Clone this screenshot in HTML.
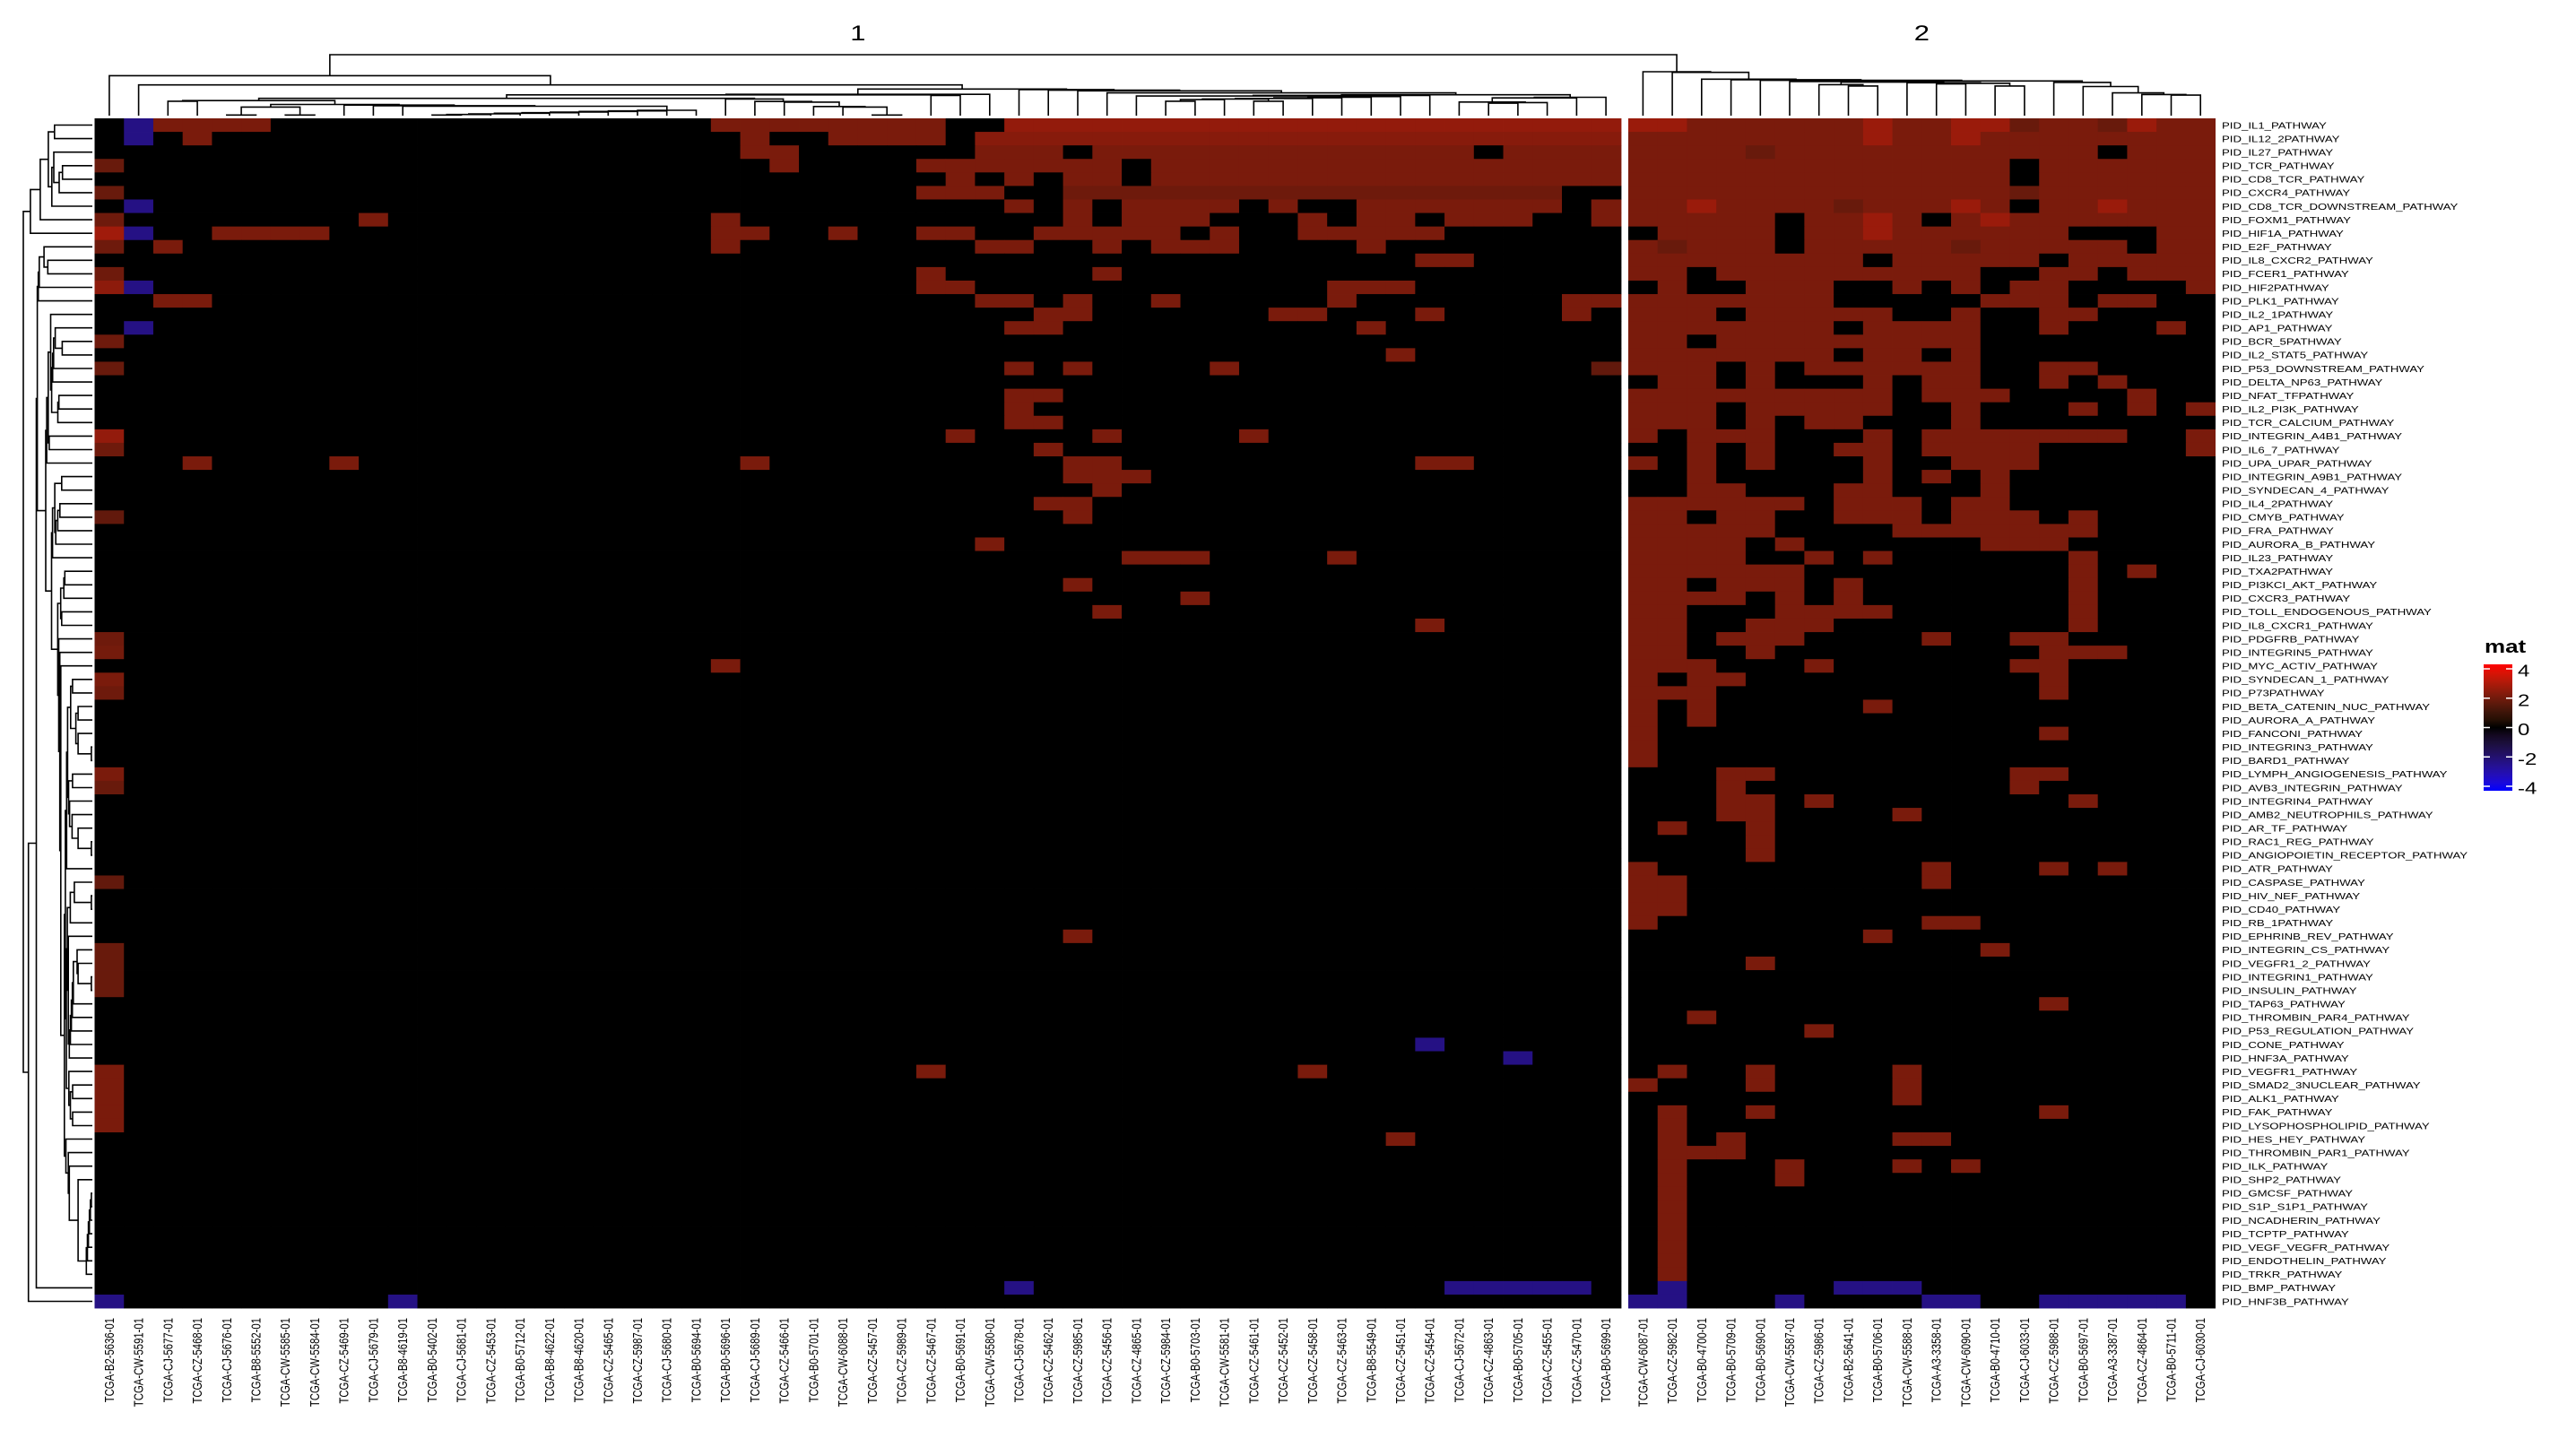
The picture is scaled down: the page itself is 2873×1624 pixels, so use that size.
<!DOCTYPE html>
<html><head><meta charset="utf-8"><title>Pathway heatmap</title>
<style>
html,body{margin:0;padding:0;background:#fff;}
svg{display:block;font-family:"Liberation Sans",Arial,sans-serif;}
</style></head>
<body>
<svg id="chart" width="2873" height="1624" viewBox="0 0 2873 1624" xmlns="http://www.w3.org/2000/svg">
<rect x="0" y="0" width="2873" height="1624" fill="#fff"/>
<defs><linearGradient id="legGrad" x1="0" y1="0" x2="0" y2="1"></linearGradient></defs>
<g id="cells"></g>
<g id="coldendro"></g>
<g id="rowdendro"></g>
<g id="collabels"></g>
<g id="rowlabels"></g>
<g id="titles"></g>
<g id="legend"></g>
</svg>
<script>
const leftCols = ["TCGA-B2-5636-01","TCGA-CW-5591-01","TCGA-CJ-5677-01","TCGA-CZ-5468-01","TCGA-CJ-5676-01","TCGA-B8-5552-01","TCGA-CW-5585-01","TCGA-CW-5584-01","TCGA-CZ-5469-01","TCGA-CJ-5679-01","TCGA-B8-4619-01","TCGA-B0-5402-01","TCGA-CJ-5681-01","TCGA-CZ-5453-01","TCGA-B0-5712-01","TCGA-B8-4622-01","TCGA-B8-4620-01","TCGA-CZ-5465-01","TCGA-CZ-5987-01","TCGA-CJ-5680-01","TCGA-B0-5694-01","TCGA-B0-5696-01","TCGA-CJ-5689-01","TCGA-CZ-5466-01","TCGA-B0-5701-01","TCGA-CW-6088-01","TCGA-CZ-5457-01","TCGA-CZ-5989-01","TCGA-CZ-5467-01","TCGA-B0-5691-01","TCGA-CW-5580-01","TCGA-CJ-5678-01","TCGA-CZ-5462-01","TCGA-CZ-5985-01","TCGA-CZ-5456-01","TCGA-CZ-4865-01","TCGA-CZ-5984-01","TCGA-B0-5703-01","TCGA-CW-5581-01","TCGA-CZ-5461-01","TCGA-CZ-5452-01","TCGA-CZ-5458-01","TCGA-CZ-5463-01","TCGA-B8-5549-01","TCGA-CZ-5451-01","TCGA-CZ-5454-01","TCGA-CJ-5672-01","TCGA-CZ-4863-01","TCGA-B0-5705-01","TCGA-CZ-5455-01","TCGA-CZ-5470-01","TCGA-B0-5699-01"];
const rightCols = ["TCGA-CW-6087-01","TCGA-CZ-5982-01","TCGA-B0-4700-01","TCGA-B0-5709-01","TCGA-B0-5690-01","TCGA-CW-5587-01","TCGA-CZ-5986-01","TCGA-B2-5641-01","TCGA-B0-5706-01","TCGA-CW-5588-01","TCGA-A3-3358-01","TCGA-CW-6090-01","TCGA-B0-4710-01","TCGA-CJ-6033-01","TCGA-CZ-5988-01","TCGA-B0-5697-01","TCGA-A3-3387-01","TCGA-CZ-4864-01","TCGA-B0-5711-01","TCGA-CJ-6030-01"];
const rowLabels = ["PID_IL1_PATHWAY","PID_IL12_2PATHWAY","PID_IL27_PATHWAY","PID_TCR_PATHWAY","PID_CD8_TCR_PATHWAY","PID_CXCR4_PATHWAY","PID_CD8_TCR_DOWNSTREAM_PATHWAY","PID_FOXM1_PATHWAY","PID_HIF1A_PATHWAY","PID_E2F_PATHWAY","PID_IL8_CXCR2_PATHWAY","PID_FCER1_PATHWAY","PID_HIF2PATHWAY","PID_PLK1_PATHWAY","PID_IL2_1PATHWAY","PID_AP1_PATHWAY","PID_BCR_5PATHWAY","PID_IL2_STAT5_PATHWAY","PID_P53_DOWNSTREAM_PATHWAY","PID_DELTA_NP63_PATHWAY","PID_NFAT_TFPATHWAY","PID_IL2_PI3K_PATHWAY","PID_TCR_CALCIUM_PATHWAY","PID_INTEGRIN_A4B1_PATHWAY","PID_IL6_7_PATHWAY","PID_UPA_UPAR_PATHWAY","PID_INTEGRIN_A9B1_PATHWAY","PID_SYNDECAN_4_PATHWAY","PID_IL4_2PATHWAY","PID_CMYB_PATHWAY","PID_FRA_PATHWAY","PID_AURORA_B_PATHWAY","PID_IL23_PATHWAY","PID_TXA2PATHWAY","PID_PI3KCI_AKT_PATHWAY","PID_CXCR3_PATHWAY","PID_TOLL_ENDOGENOUS_PATHWAY","PID_IL8_CXCR1_PATHWAY","PID_PDGFRB_PATHWAY","PID_INTEGRIN5_PATHWAY","PID_MYC_ACTIV_PATHWAY","PID_SYNDECAN_1_PATHWAY","PID_P73PATHWAY","PID_BETA_CATENIN_NUC_PATHWAY","PID_AURORA_A_PATHWAY","PID_FANCONI_PATHWAY","PID_INTEGRIN3_PATHWAY","PID_BARD1_PATHWAY","PID_LYMPH_ANGIOGENESIS_PATHWAY","PID_AVB3_INTEGRIN_PATHWAY","PID_INTEGRIN4_PATHWAY","PID_AMB2_NEUTROPHILS_PATHWAY","PID_AR_TF_PATHWAY","PID_RAC1_REG_PATHWAY","PID_ANGIOPOIETIN_RECEPTOR_PATHWAY","PID_ATR_PATHWAY","PID_CASPASE_PATHWAY","PID_HIV_NEF_PATHWAY","PID_CD40_PATHWAY","PID_RB_1PATHWAY","PID_EPHRINB_REV_PATHWAY","PID_INTEGRIN_CS_PATHWAY","PID_VEGFR1_2_PATHWAY","PID_INTEGRIN1_PATHWAY","PID_INSULIN_PATHWAY","PID_TAP63_PATHWAY","PID_THROMBIN_PAR4_PATHWAY","PID_P53_REGULATION_PATHWAY","PID_CONE_PATHWAY","PID_HNF3A_PATHWAY","PID_VEGFR1_PATHWAY","PID_SMAD2_3NUCLEAR_PATHWAY","PID_ALK1_PATHWAY","PID_FAK_PATHWAY","PID_LYSOPHOSPHOLIPID_PATHWAY","PID_HES_HEY_PATHWAY","PID_THROMBIN_PAR1_PATHWAY","PID_ILK_PATHWAY","PID_SHP2_PATHWAY","PID_GMCSF_PATHWAY","PID_S1P_S1P1_PATHWAY","PID_NCADHERIN_PATHWAY","PID_TCPTP_PATHWAY","PID_VEGF_VEGFR_PATHWAY","PID_ENDOTHELIN_PATHWAY","PID_TRKR_PATHWAY","PID_BMP_PATHWAY","PID_HNF3B_PATHWAY"];
// left split: sparse tokens "col", "from-to", optional "@value" (default 2)
const leftValues = [
"1@-2.2 2-5 21-28 31-51@2.4","1@-2.2 3 22 25-28 30-51@2.2","22 23 30-32 34-46 48-51","0@1.7 23 28-34 36-51","29 31 33 34 36-51",
"0@1.7 28-30 33-49@1.8","1@-2.2 31 33 35-38 40 43-49 51","0@1.8 9 21 33 35-37 41 43 44 46-48 51","0@2.6 1@-2.2 4-7 21 22 25 28 29 32-36 38 41-45","0@1.8 2 21 30 31 34 36-38 43",
"45 46","0@1.8 28 34","0@2.3 1@-2.2 28 29 42-44","2 3 30 31 33 36 42 50 51","32 33 40 41 45 50",
"1@-2.2 31 32 43","0@1.8","44","0@1.7 31 33 38 51@1.6","",
"31 32","31","31 32","0@2.4 29 34 39","0@1.8 32",
"3 8 22 33 34 45 46","33-35","34","32 33","0@1.6 33",
"","30","35-37 42","","33",
"37","34","45","0@1.8","0@1.9",
"21","0","0@1.8","","",
"","","","0","0@1.7",
"","","","","",
"","0@1.6","","","",
"33","0@1.7","0@1.7","0@1.7","0@1.7",
"","","","45@-2.2","48@-2.2",
"0 28 41","0","0","0","0",
"44","","","","",
"","","","","",
"","31@-2.2 46-50@-2.2","0@-2.2 10@-2.2"];
// right split: one char per column ('.'=0,'a'=1.7,'b'=2,'c'=2.5,'x'=-2.2)
const rightValues = [
"ccbbbbbbcbbccabbacbb","bbbbbbbbcbbcbbbbbbbb","bbbbabbbbbbbbbbb.bbb","bbbbbbbbbbbbb.bbbbbb","bbbbbbbbbbbbb.bbbbbb",
"bbbbbbbbbbbbbabbbbbb","bbcbbbbabbbcb.bbcbbb","bbbbb.bbcb.bcbbbbbbb",".bbbb.bbcbbbbbb...bb","babbb.bbbbbabbbbb.bb",
"bbbbbbbb.bbbbb.bbbbb","bb.bbbbbbbbb..bb.bbb",".b..bbb..b.b.bb....b","bbbbbbb.....bbb.bb..","bbb.bbbbb..b..bb....",
"bbbbbbb.bbbb..b...b.","bb.bbbbbbbbb........","bbbbbbb.bb.b........","bbb.b.bbbbbb..bb....",".bb.b...b.bb..b.b...",
"bbbbbbbbb.bbb....b..","bbb.bbbbb..b...b.b.b","bbb.b.bb...b........","b.bbb...b.bbbbbbb..b","..b.b..bb.bbbb.....b",
"b.b.b...b..bbb......","..b.....b.b.b.......","..bb...bb...b.......","bbbbbb.bbb.bb.......","bb.bb..bbb.bbb.b....",
"bbbbb....bbbbbbb....","bbbb.b......bbb.....","bbbb..b.b......b....","bbbbbb.........b.b..","bb.bbb.b.......b....",
"bbbb.b.b.......b....","bb...bbbb......b....","bb..bbb........b....","bb.bbb....b..bb.....","bb..b.........bbb...",
"bbb...b......bb.....","b.bb..........b.....","bbb...........b.....","b.b.....b...........","b.b.................",
"b.............b.....","b...................","b...................","...bb........bb.....","...b.........b......",
"...bb.b........b....","...bb....b..........",".b..b...............","....b...............","....b...............",
"b.........b...b.b...","bb........b.........","bb..................","bb..................","b.........bb........",
"........b...........","............b.......","....b...............","....................","....................",
"..............b.....","..b.................","......b.............","....................","....................",
".b..b....b..........","b...b....b..........",".........b..........",".b..b.........b.....",".b..................",
".b.b.....bb.........",".bbb................",".b...b...b.b........",".b...b..............",".b..................",
".b..................",".b..................",".b..................",".b..................",".b..................",
".b..................",".x.....xxx..........","xx...x....xx..xxxxx."];
const legendTicks = [4, 2, 0, -2, -4];

const NS = "http://www.w3.org/2000/svg";
function mk(tag, attrs, parent){ const e=document.createElementNS(NS,tag); for(const k in attrs) e.setAttribute(k,attrs[k]); if(parent) parent.appendChild(e); return e; }

// geometry / axis functions
const TOP = 132, ROWH = 15.08, COLW = 32.73, LEFTX = 105.5, RIGHTX = 1816;
const nL = leftCols.length, nR = rightCols.length, nRows = rowLabels.length;
function yOf(r){ return TOP + r*ROWH; }
function xOf(c){ return c < nL ? LEFTX + c*COLW : RIGHTX + (c-nL)*COLW; }

// parse data into matrix
const codeMap = {'.':0,'a':1.7,'b':2,'c':2.5,'x':-2.2,'y':-1.8};
const mat = [];
for(let r=0;r<nRows;r++){
  const row = new Array(nL+nR).fill(0);
  (leftValues[r]||"").trim().split(/\s+/).filter(Boolean).forEach(tok=>{
    let [rng,val] = tok.split('@'); val = val===undefined?2:parseFloat(val);
    let [a,b] = rng.split('-').map(Number); if(b===undefined) b=a;
    for(let c=a;c<=b;c++) row[c]=val;
  });
  const s = rightValues[r]||"";
  for(let j=0;j<nR;j++){ row[nL+j] = codeMap[s[j]]||0; }
  mat.push(row);
}

// color: LAB interpolation blue-black-red over [-4,0,4]
const LAB_RED=[53.24,80.09,67.20], LAB_BLUE=[32.30,79.19,-107.86];
function lab2rgb(L,A,B){
  const fy=(L+16)/116, fx=fy+A/500, fz=fy-B/200;
  const f=t=>t>6/29? t*t*t : 3*(6/29)*(6/29)*(t-4/29);
  const X=0.95047*f(fx), Y=f(fy), Z=1.08883*f(fz);
  const lin=[3.2406*X-1.5372*Y-0.4986*Z, -0.9689*X+1.8758*Y+0.0415*Z, 0.0557*X-0.2040*Y+1.0570*Z];
  const g=c=>{c=Math.max(0,Math.min(1,c)); return Math.round(255*(c<=0.0031308?12.92*c:1.055*Math.pow(c,1/2.4)-0.055));};
  return "rgb("+lin.map(g).join(",")+")";
}
function colorFor(v){
  const t=Math.min(1,Math.abs(v)/4); if(t===0) return "rgb(0,0,0)";
  const e = v>0?LAB_RED:LAB_BLUE;
  return lab2rgb(e[0]*t,e[1]*t,e[2]*t);
}

// cells
const gCells=document.getElementById('cells');
for(let r=0;r<nRows;r++){
  for(let c=0;c<nL+nR;c++){
    const w = c===nL-1 ? (RIGHTX-8) - xOf(c) : COLW;
    const rect = mk('rect',{x:xOf(c).toFixed(2),y:yOf(r).toFixed(2),width:(w+0.4).toFixed(2),height:(ROWH+0.4).toFixed(2),fill:colorFor(mat[r][c])},gCells);
    
    
  }
}

// dendrogram via adjacent-merge clustering
function buildTree(vecs){
  let cl = vecs.map((v,i)=>({pos:i,h:0,mean:v.slice(),n:1,kids:null}));
  while(cl.length>1){
    let best=-1,bd=Infinity;
    for(let i=0;i<cl.length-1;i++){
      let d=0; const a=cl[i].mean,b=cl[i+1].mean;
      for(let k=0;k<a.length;k++){ d+=(a[k]-b[k])**2; }
      d=Math.sqrt(d);
      if(d<bd){bd=d;best=i;}
    }
    const A=cl[best],B=cl[best+1],n=A.n+B.n;
    const mean=A.mean.map((v,k)=>(v*A.n+B.mean[k]*B.n)/n);
    const node={pos:(A.pos+B.pos)/2,h:Math.max(bd,A.h,B.h)+0.15,mean,n,kids:[A,B]};
    cl.splice(best,2,node);
  }
  return cl[0];
}
function drawTree(node,g,toXY){
  if(!node.kids) return;
  const [A,B]=node.kids;
  const p1=toXY(A.pos,node.h), p2=toXY(B.pos,node.h), a0=toXY(A.pos,A.h), b0=toXY(B.pos,B.h);
  const ln = mk('polyline',{points:`${a0[0]},${a0[1]} ${p1[0]},${p1[1]} ${p2[0]},${p2[1]} ${b0[0]},${b0[1]}`,fill:'none',stroke:'#000','stroke-width':1.6},g);
  
  
  drawTree(A,g,toXY); drawTree(B,g,toXY);
}
// column trees
const colVec = c => mat.map(row=>row[c]);
const treeL = buildTree(leftCols.map((_,c)=>colVec(c)));
const treeR = buildTree(rightCols.map((_,j)=>colVec(nL+j)));
const maxH = Math.max(treeL.h,treeR.h);
const gCD=document.getElementById('coldendro');
const leafY=129, rootY=80;
drawTree(treeL,gCD,(p,h)=>[ (xOf(0)+COLW/2+p*COLW).toFixed(1), (leafY-h/maxH*(leafY-rootY)).toFixed(1)]);
drawTree(treeR,gCD,(p,h)=>[ (RIGHTX+COLW/2+p*COLW).toFixed(1), (leafY-h/maxH*(leafY-rootY)).toFixed(1)]);
{
  const xl=xOf(0)+COLW/2+treeL.pos*COLW, yl=leafY-treeL.h/maxH*(leafY-rootY);
  const xr=RIGHTX+COLW/2+treeR.pos*COLW, yr=leafY-treeR.h/maxH*(leafY-rootY);
  const top = mk('polyline',{points:`${xl},${yl} ${xl},61 ${xr},61 ${xr},${yr}`,fill:'none',stroke:'#000','stroke-width':1.6},gCD);
  
  
}
// row tree
const treeRow = buildTree(mat);
const gRD=document.getElementById('rowdendro');
drawTree(treeRow,gRD,(p,h)=>[ (103-h/treeRow.h*(103-26)).toFixed(1), (TOP+ROWH/2+p*ROWH).toFixed(1)]);

// column labels
const gCL=document.getElementById('collabels');
leftCols.concat(rightCols).forEach((lab,c)=>{
  const cx=xOf(c)+COLW/2+5;
  const t=mk('text',{transform:`translate(${cx.toFixed(1)},1470) scale(1,0.78) rotate(-90)`,'text-anchor':'end','font-size':14.5,fill:'#000'},gCL);
  t.textContent=lab;
  
  
});
// row labels
const gRL=document.getElementById('rowlabels');
rowLabels.forEach((lab,r)=>{
  const t=mk('text',{transform:`translate(2478,${(yOf(r)+ROWH/2+3.8).toFixed(1)}) scale(1,0.78)`,'font-size':13.2,fill:'#000'},gRL);
  t.textContent=lab;
  
  
});
// split titles
const gT=document.getElementById('titles');
[["1",(LEFTX+RIGHTX-8)/2],["2",RIGHTX+nR*COLW/2]].forEach(([s,x])=>{
  const t=mk('text',{transform:`translate(${x.toFixed(1)},45) scale(1,0.78)`,'text-anchor':'middle','font-size':31,fill:'#000'},gT);
  t.textContent=s;
  
  
});
// legend
const grad=document.getElementById('legGrad');
for(let i=0;i<=16;i++){ const v=4-i*0.5; mk('stop',{offset:(i/16).toFixed(4),'stop-color':colorFor(v)},grad); }
const gL=document.getElementById('legend');
const LX=2770,LW=32,LY0=741,LY1=882;
const lt=mk('text',{transform:'translate(2771,728) scale(1,0.78)','font-size':26,'font-weight':'bold',fill:'#000'},gL);
lt.textContent='mat';


const bar=mk('rect',{x:LX,y:LY0,width:LW,height:LY1-LY0,fill:'url(#legGrad)'},gL);


const legY = v => LY0+5 + (4-v)/8*(LY1-LY0-10);
legendTicks.forEach(v=>{
  const y=legY(v);
  mk('line',{x1:LX,x2:LX+7,y1:y,y2:y,stroke:'#fff','stroke-width':1.5},gL);
  mk('line',{x1:LX+LW-7,x2:LX+LW,y1:y,y2:y,stroke:'#fff','stroke-width':1.5},gL);
  const t=mk('text',{transform:`translate(${LX+LW+6},${(y+8.5).toFixed(1)}) scale(1,0.78)`,'font-size':24,fill:'#000'},gL);
  t.textContent=String(v);
  
  
});
</script>
</body></html>
